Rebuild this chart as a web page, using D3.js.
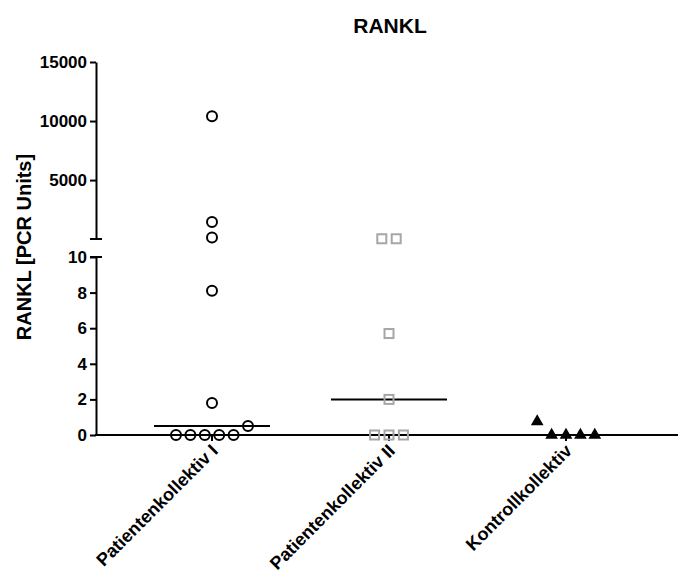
<!DOCTYPE html>
<html lang="de">
<head>
<meta charset="utf-8">
<title>RANKL</title>
<script src="https://cdn.jsdelivr.net/npm/d3@7"></script>
<style>
  body { margin: 0; background: #fff; }
  svg text { font-family: "Liberation Sans", Arial, sans-serif; font-weight: bold; fill: #000; }
</style>
</head>
<body>
<script>
// categories and values per group (order inside a group = order in the row)
var categories = ["Patientenkollektiv I", "Patientenkollektiv II", "Kontrollkollektiv"];
var patientsI  = [10400, 1450, 130, 8.1, 1.8, 0, 0, 0, 0, 0, 0.5];
var patientsII = [30, 30, 5.7, 2.0, 0, 0, 0];
var controls   = [0.75, 0, 0, 0, 0];
var groups = [patientsI, patientsII, controls];

var lowTicks  = [0, 2, 4, 6, 8, 10];
var highTicks = [5000, 10000, 15000];
var breakValue = 10;

var w = 678, h = 581;
var axisX = 96, axisRight = 678;

var svg = d3.select("body").append("svg")
  .attr("width", w)
  .attr("height", h);

// scales
var x = d3.scalePoint().domain(categories).range([212, 566]);
var yLow  = d3.scaleLinear().domain([0, breakValue]).range([435, 257]);
var yHigh = d3.scaleLinear().domain([breakValue, 15000]).range([239, 62]);

function yPos(v) { return v > breakValue ? yHigh(v) : yLow(v); }

// title
svg.append("text")
  .attr("x", 390).attr("y", 33)
  .attr("text-anchor", "middle")
  .style("font-size", "21px")
  .text("RANKL");

// y axis title
svg.append("text")
  .attr("transform", "translate(31,247) rotate(-90)")
  .attr("text-anchor", "middle")
  .style("font-size", "20px")
  .text("RANKL [PCR Units]");

// y axis segments
function styleAxis(g) {
  g.select(".domain").attr("stroke-width", 2);
  g.selectAll(".tick line").attr("stroke-width", 2);
  g.selectAll(".tick text")
    .style("font-size", "17px")
    .style("font-family", "'Liberation Sans', Arial, sans-serif")
    .style("font-weight", "bold");
}

svg.append("g")
  .attr("transform", "translate(" + axisX + ",0)")
  .call(d3.axisLeft(yLow).tickValues(lowTicks).tickFormat(d3.format("d")).tickSizeOuter(0))
  .call(styleAxis);

svg.append("g")
  .attr("transform", "translate(" + axisX + ",0)")
  .call(d3.axisLeft(yHigh).tickValues(highTicks).tickFormat(d3.format("d")).tickSizeOuter(0))
  .call(styleAxis);

// caps at the axis break
[yLow(breakValue), yHigh(breakValue)].forEach(function(yy) {
  svg.append("line")
    .attr("x1", axisX - 6).attr("x2", axisX + 6)
    .attr("y1", yy).attr("y2", yy)
    .attr("stroke", "#000").attr("stroke-width", 2);
});

// x axis
svg.append("line")
  .attr("x1", axisX - 1).attr("x2", axisRight)
  .attr("y1", yLow(0)).attr("y2", yLow(0))
  .attr("stroke", "#000").attr("stroke-width", 2);

svg.selectAll(".xtick")
  .data(categories)
  .enter()
  .append("line")
  .attr("x1", function(d) { return x(d); })
  .attr("x2", function(d) { return x(d); })
  .attr("y1", yLow(0)).attr("y2", yLow(0) + 6)
  .attr("stroke", "#000").attr("stroke-width", 2);

svg.selectAll(".xlabel")
  .data(categories)
  .enter()
  .append("text")
  .attr("text-anchor", "end")
  .attr("transform", function(d) {
    return "translate(" + (x(d) + 7) + "," + (yLow(0) + 17) + ") rotate(-45)";
  })
  .style("font-size", "18px")
  .text(function(d) { return d; });

// scatter layout: points close in y share a row, spread horizontally
var step = 14.4, rowGap = 14.5;
function layout(values, cat) {
  var rows = [];
  var pts = values.map(function(v) {
    var py = yPos(v);
    var row = rows.find(function(r) { return Math.abs(r.y - py) < rowGap; });
    if (!row) { row = { y: py, items: [] }; rows.push(row); }
    var p = { v: v, y: py };
    row.items.push(p);
    return p;
  });
  rows.forEach(function(r) {
    var n = r.items.length;
    r.items.forEach(function(p, i) {
      p.x = x(cat) + (i - (n - 1) / 2) * step;
    });
  });
  return pts;
}

// medians
groups.forEach(function(vals, gi) {
  var m = d3.median(vals);
  svg.append("line")
    .attr("x1", x(categories[gi]) - 58).attr("x2", x(categories[gi]) + 58)
    .attr("y1", yPos(m)).attr("y2", yPos(m))
    .attr("stroke", "#000").attr("stroke-width", 2);
});

// group I: open circles
svg.selectAll(".c1")
  .data(layout(patientsI, categories[0]))
  .enter()
  .append("circle")
  .attr("cx", function(d) { return d.x; })
  .attr("cy", function(d) { return d.y; })
  .attr("r", 5)
  .attr("fill", "none")
  .attr("stroke", "#000")
  .attr("stroke-width", 2);

// group II: open grey squares
svg.selectAll(".s2")
  .data(layout(patientsII, categories[1]))
  .enter()
  .append("rect")
  .attr("x", function(d) { return d.x - 4.5; })
  .attr("y", function(d) { return d.y - 4.5; })
  .attr("width", 9)
  .attr("height", 9)
  .attr("fill", "none")
  .attr("stroke", "#a6a6a6")
  .attr("stroke-width", 2);

// controls: filled triangles
svg.selectAll(".t3")
  .data(layout(controls, categories[2]))
  .enter()
  .append("path")
  .attr("d", d3.symbol().type(d3.symbolTriangle).size(70))
  .attr("transform", function(d) { return "translate(" + d.x + "," + d.y + ")"; })
  .attr("fill", "#000");
</script>
</body>
</html>
